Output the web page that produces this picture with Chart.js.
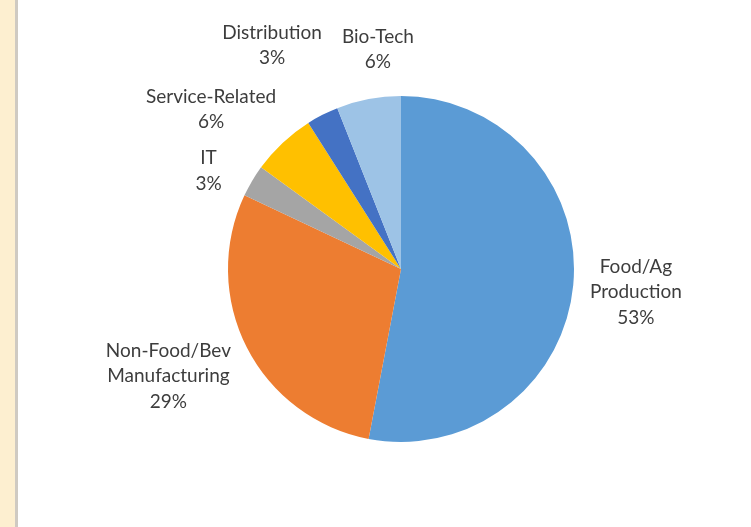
<!DOCTYPE html>
<html>
<head>
<meta charset="utf-8">
<script src="https://cdn.jsdelivr.net/npm/chart.js@4/dist/chart.umd.min.js"></script>
<style>
  html, body { margin: 0; padding: 0; background: #ffffff; }
  #wrap { position: relative; width: 751px; height: 527px; overflow: hidden; background: #ffffff; }
  #strip { position: absolute; left: 0; top: 0; width: 15px; height: 527px; background: #fdefd0; }
  #rule { position: absolute; left: 15px; top: 0; width: 3px; height: 527px; background: #cfcac2; }
  canvas { position: absolute; left: 0; top: 0; }
</style>
</head>
<body>
<div id="wrap">
  <div id="strip"></div>
  <div id="rule"></div>
  <canvas id="c" width="751" height="527"></canvas>
</div>
<script>
// Share of businesses by sector (percent)
const categories = ['Food/Ag Production', 'Non-Food/Bev Manufacturing', 'IT', 'Service-Related', 'Distribution', 'Bio-Tech'];
const shares = [53, 29, 3, 6, 3, 6];
// How each sector name is broken over lines in its label
const labelLines = [
  ['Food/Ag', 'Production'],
  ['Non-Food/Bev', 'Manufacturing'],
  ['IT'],
  ['Service-Related'],
  ['Distribution'],
  ['Bio-Tech']
];
const sliceColors = ['#5b9bd5', '#ed7d31', '#a5a5a5', '#ffc000', '#4472c4', '#9dc3e6'];

// Label placement: angular shift (degrees) from the slice middle and distance beyond the rim (px)
const labelAngleShift = [0.2, 2.3, -3.6, -6.8, -3, 4.8];
const labelRimGap = [63, 83, 43, 75, 85, 48];

const outsideLabels = {
  id: 'outsideLabels',
  afterDatasetsDraw(chart) {
    const ctx = chart.ctx;
    const meta = chart.getDatasetMeta(0);
    ctx.save();
    ctx.font = '19px Lato, "Open Sans", sans-serif';
    ctx.fillStyle = '#3d3d3d';
    ctx.textAlign = 'center';
    ctx.textBaseline = 'middle';
    const lh = 25.5;
    meta.data.forEach((arc, i) => {
      const p = arc.getProps(['x', 'y', 'startAngle', 'endAngle', 'outerRadius'], true);
      const mid = (p.startAngle + p.endAngle) / 2 + labelAngleShift[i] * Math.PI / 180;
      const d = p.outerRadius + labelRimGap[i];
      const cx = p.x + Math.cos(mid) * d;
      const cy = p.y + Math.sin(mid) * d;
      const lines = labelLines[i].concat([shares[i] + '%']);
      const top = cy - (lines.length - 1) * lh / 2;
      lines.forEach((t, k) => ctx.fillText(t, cx, top + k * lh));
    });
    ctx.restore();
  }
};

new Chart(document.getElementById('c'), {
  type: 'pie',
  data: {
    labels: categories,
    datasets: [{
      data: shares,
      backgroundColor: sliceColors,
      borderWidth: 0
    }]
  },
  options: {
    responsive: false,
    animation: false,
    layout: { padding: { left: 228, right: 177, top: 96, bottom: 85 } },
    plugins: {
      legend: { display: false },
      tooltip: { enabled: false }
    }
  },
  plugins: [outsideLabels]
});
</script>
</body>
</html>
